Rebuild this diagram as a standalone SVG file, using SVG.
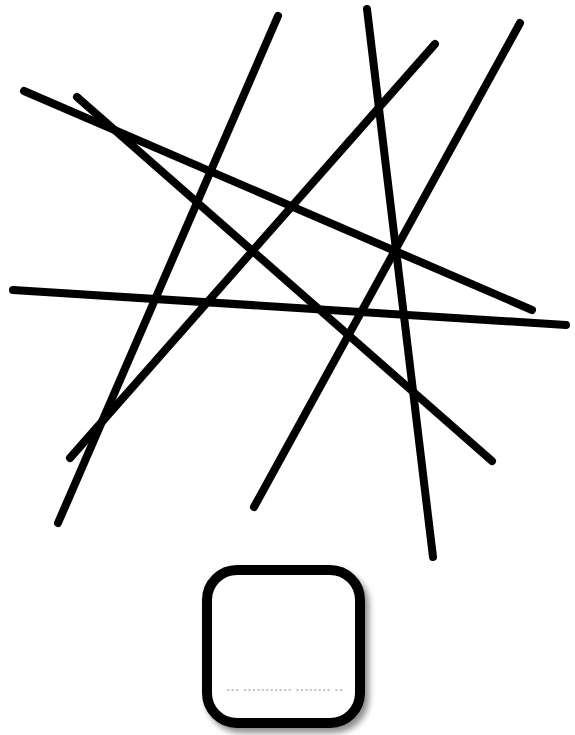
<svg xmlns="http://www.w3.org/2000/svg" width="575" height="735" viewBox="0 0 575 735">
<style>
.ln{stroke:#000;stroke-width:8;stroke-linecap:round;fill:none}
.box{fill:#fff;stroke:#000;stroke-width:10}
.tiny{font-family:"Liberation Sans",Arial,sans-serif;font-size:4px;fill:#7a7a5a}
</style>
<defs>
<filter id="sh" x="-20%" y="-20%" width="150%" height="150%">
<feGaussianBlur in="SourceAlpha" stdDeviation="3"/>
<feOffset dx="4" dy="5" result="b"/>
<feComponentTransfer><feFuncA type="linear" slope="0.45"/></feComponentTransfer>
<feMerge><feMergeNode/><feMergeNode in="SourceGraphic"/></feMerge>
</filter>
</defs>
<rect width="575" height="735" fill="#fff"/>
<g id="lines">
<line class="ln" x1="278" y1="16" x2="58" y2="523"/>
<line class="ln" x1="367" y1="9" x2="433" y2="557"/>
<line class="ln" x1="435" y1="44" x2="70" y2="458"/>
<line class="ln" x1="520" y1="23" x2="254" y2="507"/>
<line class="ln" x1="24" y1="91" x2="532" y2="310"/>
<line class="ln" x1="77" y1="97" x2="492" y2="461"/>
<line class="ln" x1="13" y1="290" x2="566" y2="325"/>
</g>
<g id="node1">
<rect class="box" x="207" y="570" width="153" height="153" rx="30" ry="30" filter="url(#sh)"/>
<text class="tiny" x="227" y="691" textLength="115" lengthAdjust="spacing">ooo ooooooooooo oooooooo oo</text>
</g>
</svg>
